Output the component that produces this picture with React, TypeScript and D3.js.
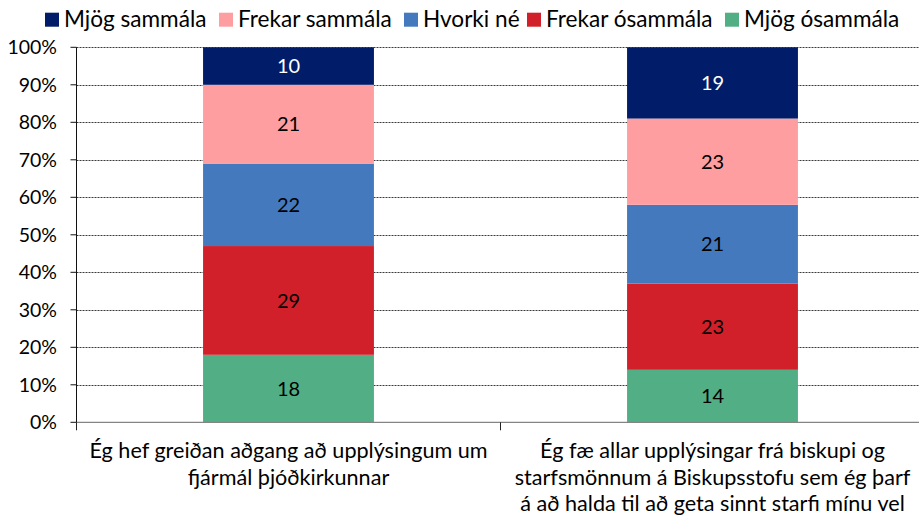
import React, { useRef, useEffect } from 'react';
import * as d3 from 'd3';

const categories = [
  ['Ég hef greiðan aðgang að upplýsingum um', 'fjármál þjóðkirkunnar'],
  ['Ég fæ allar upplýsingar frá biskupi og', 'starfsmönnum á Biskupsstofu sem ég þarf', 'á að halda til að geta sinnt starfi mínu vel'],
];
// stacking order bottom -> top
const seriesNames = ['Mjög ósammála', 'Frekar ósammála', 'Hvorki né', 'Frekar sammála', 'Mjög sammála'];
const seriesColors = ['#52ae84', '#d2202a', '#4479bd', '#ff9ea1', '#011c69'];
const labelColors = ['#000', '#000', '#000', '#000', '#fff'];
const values = [
  [18, 29, 22, 21, 10],
  [14, 23, 21, 23, 19],
];
const yTicks = [0, 10, 20, 30, 40, 50, 60, 70, 80, 90, 100];
const legendOrder = ['Mjög sammála', 'Frekar sammála', 'Hvorki né', 'Frekar ósammála', 'Mjög ósammála'];

const W = 919;
const H = 530;
const margin = { top: 47.3, right: -5.5, bottom: 107.7, left: 76.5 };
const FONT = 'Lato, "Open Sans", sans-serif';

const App = () => {
  const svgRef = useRef<SVGSVGElement>(null);

  useEffect(() => {
    const svg = d3.select(svgRef.current);
    svg.selectAll('*').remove();

    const x = d3.scaleBand<number>()
      .domain(categories.map((_, i) => i))
      .range([margin.left, W - margin.right])
      .paddingInner(0.597)
      .paddingOuter(0.2985);
    const y = d3.scaleLinear().domain([0, 100]).range([H - margin.bottom, margin.top]);

    // gridlines
    svg.append('g')
      .selectAll('line')
      .data(yTicks.filter(t => t > 0))
      .join('line')
      .attr('x1', margin.left)
      .attr('x2', W)
      .attr('y1', d => Math.round(y(d)) + 0.5)
      .attr('y2', d => Math.round(y(d)) + 0.5)
      .attr('stroke', '#3a3a3a')
      .attr('stroke-dasharray', '2,1');

    // stacked bars
    const rows = values.map((v, i) => {
      const r: any = { cat: i };
      seriesNames.forEach((s, j) => { r[s] = v[j]; });
      return r;
    });
    const stacked = d3.stack().keys(seriesNames)(rows);

    stacked.forEach((layer, j) => {
      const g = svg.append('g');
      g.selectAll('rect')
        .data(layer)
        .join('rect')
        .attr('x', (d: any) => x(d.data.cat)!)
        .attr('width', x.bandwidth())
        .attr('y', d => y(d[1]))
        .attr('height', d => y(d[0]) - y(d[1]))
        .attr('fill', seriesColors[j]);
      g.selectAll('text')
        .data(layer)
        .join('text')
        .attr('x', (d: any) => x(d.data.cat)! + x.bandwidth() / 2)
        .attr('y', d => (y(d[0]) + y(d[1])) / 2)
        .attr('dy', '0.36em')
        .attr('text-anchor', 'middle')
        .attr('font-family', FONT)
        .attr('font-size', 20)
        .attr('fill', labelColors[j])
        .text(d => d[1] - d[0]);
    });

    // baseline
    svg.append('line')
      .attr('x1', margin.left)
      .attr('x2', W)
      .attr('y1', y(0))
      .attr('y2', y(0))
      .attr('stroke', '#858585')
      .attr('stroke-width', 1.3);

    // category tick marks
    const bounds = [margin.left, margin.left + x.step()];
    svg.append('g').selectAll('line')
      .data(bounds)
      .join('line')
      .attr('x1', d => d).attr('x2', d => d)
      .attr('y1', y(0)).attr('y2', y(0) + 8)
      .attr('stroke', '#222');

    // y axis
    svg.append('line')
      .attr('x1', margin.left).attr('x2', margin.left)
      .attr('y1', y(100)).attr('y2', y(0))
      .attr('stroke', '#111');
    const ya = svg.append('g');
    ya.selectAll('line')
      .data(yTicks)
      .join('line')
      .attr('x1', margin.left - 6).attr('x2', margin.left)
      .attr('y1', d => y(d)).attr('y2', d => y(d))
      .attr('stroke', '#111');
    ya.selectAll('text')
      .data(yTicks)
      .join('text')
      .attr('x', 57)
      .attr('y', d => y(d))
      .attr('dy', '0.36em')
      .attr('text-anchor', 'end')
      .attr('font-family', FONT)
      .attr('font-size', 19.5)
      .attr('fill', '#000')
      .text(d => `${d}%`);

    // category labels
    categories.forEach((lines, i) => {
      const cx = x(i)! + x.bandwidth() / 2;
      const t = svg.append('text')
        .attr('text-anchor', 'middle')
        .attr('font-family', FONT)
        .attr('font-size', 21.6)
        .attr('fill', '#000');
      lines.forEach((ln, k) => {
        t.append('tspan').attr('x', cx).attr('y', 458 + k * 26.5).text(ln);
      });
    });

    // legend
    const legendX = [45, 219, 404, 527, 725];
    const lg = svg.append('g');
    legendOrder.forEach((name, i) => {
      const j = seriesNames.indexOf(name);
      lg.append('rect')
        .attr('x', legendX[i]).attr('y', 12.7)
        .attr('width', 14).attr('height', 14)
        .attr('fill', seriesColors[j]);
      lg.append('text')
        .attr('x', legendX[i] + 19)
        .attr('y', 27)
        .attr('font-family', FONT)
        .attr('font-size', 22.6)
        .attr('fill', '#000')
        .text(name);
    });
  }, []);

  return (
    <div style={{ position: 'absolute', left: 0, top: 0 }}>
      <svg ref={svgRef} width={W} height={H} style={{ display: 'block', background: '#fff' }} />
    </div>
  );
};

export default App;
